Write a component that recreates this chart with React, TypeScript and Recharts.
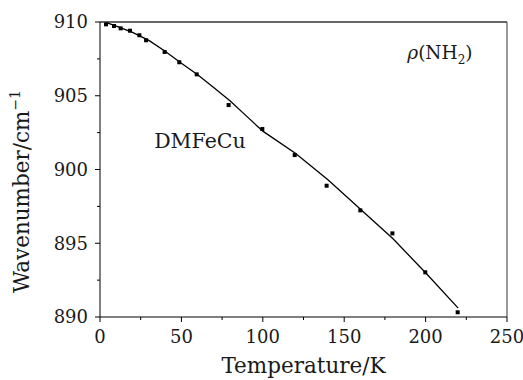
import React from "react";
import { ComposedChart, Line, Scatter, XAxis, YAxis, ReferenceLine, ReferenceDot } from "recharts";

const tempPoints = [3.7, 8.6, 12.7, 18.4, 24.2, 28.3, 39.7, 48.7, 59.4, 79, 99.7, 119.6, 139.2, 159.9, 179.6, 199.8, 219.7];
const wavePoints = [909.84, 909.73, 909.57, 909.41, 909.1, 908.76, 907.97, 907.27, 906.45, 904.37, 902.75, 900.98, 898.9, 897.23, 895.67, 893.03, 890.32];

const fitTemps = [4, 10, 20, 30, 40, 50, 60, 70, 80, 90, 100, 120, 140, 160, 180, 200, 220];
const fitWaves = [909.95, 909.72, 909.3, 908.75, 908.02, 907.2, 906.42, 905.55, 904.65, 903.62, 902.6, 901.1, 899.3, 897.3, 895.3, 893.0, 890.6];

const xTicks = [0, 25, 50, 75, 100, 125, 150, 175, 200, 225, 250];
const yTicks = [890, 892.5, 895, 897.5, 900, 902.5, 905, 907.5, 910];

const seriesLabel = "DMFeCu";
const xTitle = "Temperature/K";
const yTitle = "Wavenumber/cm";

const points = tempPoints.map((t, i) => ({ t, w: wavePoints[i] }));
const fit = fitTemps.map((t, i) => ({ t, w: fitWaves[i] }));

const FONT = "'DejaVu Serif', serif";
const TM = 10;
const TXT = "#1a1a1a";

const YTick = (props: any) => {
  const { x, y, payload } = props;
  const ax = x + TM;
  const major = payload.value % 5 === 0;
  return (
    <g>
      <line x1={ax} x2={ax - (major ? 5 : 3)} y1={y} y2={y} stroke="#000" strokeWidth={1} />
      {major && (
        <text x={ax - 12} y={y} dy="0.36em" textAnchor="end" fontFamily={FONT} fontSize={18} fill={TXT}>
          {payload.value}
        </text>
      )}
    </g>
  );
};

const XTick = (props: any) => {
  const { x, y, payload } = props;
  const ay = y - TM;
  const major = payload.value % 50 === 0;
  return (
    <g>
      <line x1={x} x2={x} y1={ay} y2={ay + (major ? 5 : 3)} stroke="#000" strokeWidth={1} />
      {major && (
        <text x={x} y={ay + 26} textAnchor="middle" fontFamily={FONT} fontSize={18} fill={TXT}>
          {payload.value}
        </text>
      )}
    </g>
  );
};

const Square = (props: any) => {
  const { cx, cy } = props;
  return <rect x={cx - 2} y={cy - 2} width={4} height={4} fill="#000" />;
};

export default function App() {
  return (
    <div style={{ position: "absolute", left: 0, top: 0, background: "#fff" }}>
      <ComposedChart width={523} height={380} margin={{ top: 22, right: 16, bottom: 0, left: 0 }}>
        <XAxis
          dataKey="t"
          type="number"
          domain={[0, 250]}
          ticks={xTicks}
          interval={0}
          height={63}
          tickSize={0}
          tickMargin={TM}
          tickLine={false}
          tick={<XTick />}
          stroke="#000"
          label={{
            content: (p: any) => {
              const vb = p.viewBox;
              return (
                <text x={vb.x + vb.width / 2} y={vb.y + 56} textAnchor="middle" fontFamily={FONT} fontSize={21.5} fill={TXT}>
                  {xTitle}
                </text>
              );
            },
          }}
        />
        <YAxis
          dataKey="w"
          type="number"
          domain={[890, 910]}
          ticks={yTicks}
          interval={0}
          width={100}
          tickSize={0}
          tickMargin={TM}
          tickLine={false}
          tick={<YTick />}
          stroke="#000"
          label={{
            content: (p: any) => {
              const vb = p.viewBox;
              const cx = 29;
              const cy = vb.y + vb.height / 2 + 22;
              return (
                <text x={cx} y={cy} transform={`rotate(-90, ${cx}, ${cy})`} textAnchor="middle" fontFamily={FONT} fontSize={21.5} fill={TXT}>
                  {yTitle}
                  <tspan fontSize={14} dy={-9}>−1</tspan>
                </text>
              );
            },
          }}
        />
        <ReferenceLine y={910} stroke="#666" strokeWidth={2} />
        <ReferenceLine x={250} stroke="#333" strokeWidth={1} />
        <Line data={fit} dataKey="w" type="linear" stroke="#000" strokeWidth={1.3} dot={false} isAnimationActive={false} />
        <Scatter data={points} dataKey="w" fill="#000" shape={<Square />} isAnimationActive={false} />
        <ReferenceDot
          x={61.4}
          y={901.93}
          r={0}
          stroke="none"
          label={{
            content: (p: any) => {
              const vb = p.viewBox;
              return (
                <text x={vb.x + (vb.width || 0) / 2} y={vb.y + (vb.height || 0) / 2} dy="0.36em" textAnchor="middle" fontFamily={FONT} fontSize={20.5} fill={TXT}>
                  {seriesLabel}
                </text>
              );
            },
          }}
        />
        <ReferenceDot
          x={208.8}
          y={907.97}
          r={0}
          stroke="none"
          label={{
            content: (p: any) => {
              const vb = p.viewBox;
              return (
                <text x={vb.x + (vb.width || 0) / 2} y={vb.y + (vb.height || 0) / 2} dy="0.36em" textAnchor="middle" fontFamily={FONT} fontSize={18.5} fill={TXT}>
                  <tspan fontStyle="italic">ρ</tspan>
                  <tspan>(NH</tspan>
                  <tspan fontSize={12} dy={5}>2</tspan>
                  <tspan dy={-5}>)</tspan>
                </text>
              );
            },
          }}
        />
      </ComposedChart>
    </div>
  );
}
